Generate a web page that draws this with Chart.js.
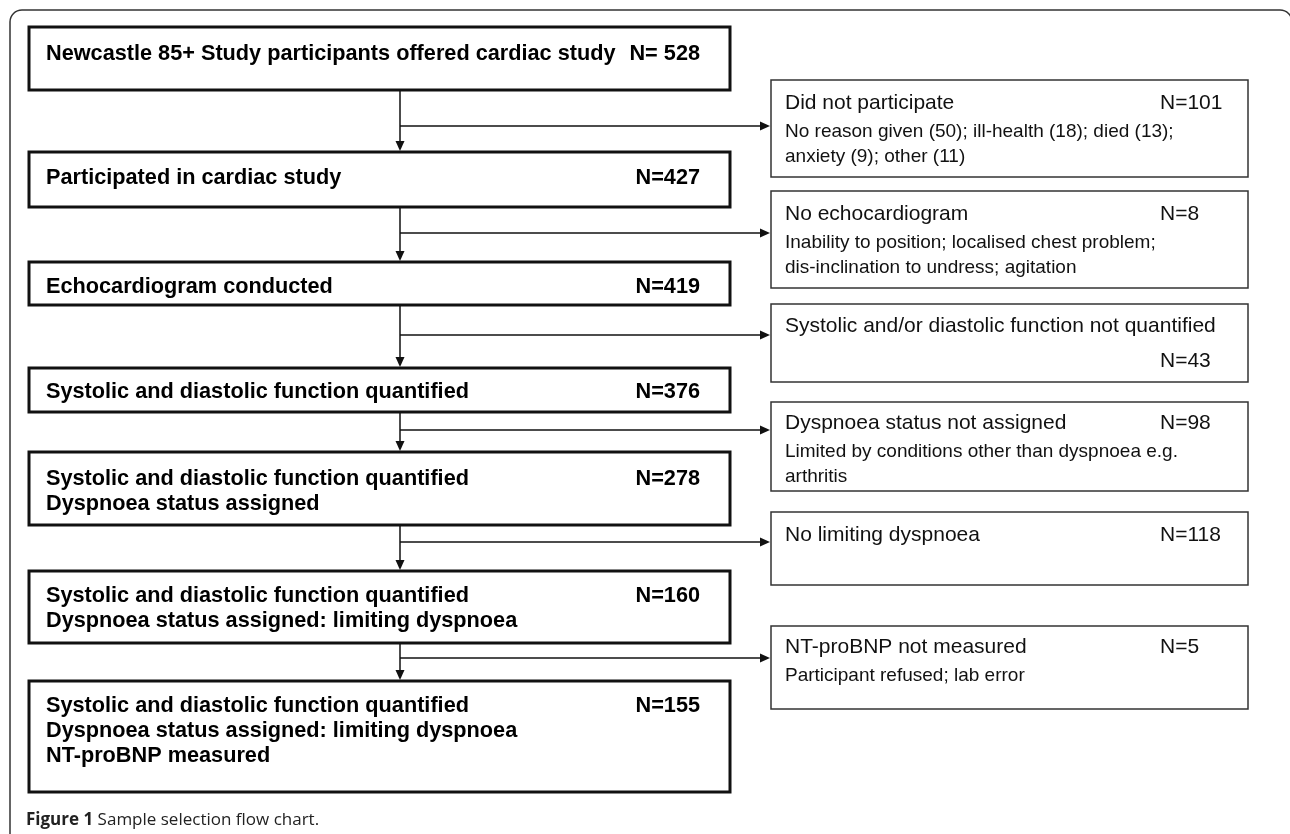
<!DOCTYPE html>
<html>
<head>
<meta charset="utf-8">
<title>Sample selection flow chart</title>
<script src="https://cdn.jsdelivr.net/npm/chart.js@4/dist/chart.umd.min.js"></script>
<style>
  html, body { margin: 0; padding: 0; background: #fff; }
  #wrap { width: 1290px; height: 834px; }
</style>
</head>
<body>
<div id="wrap"><canvas id="flow" width="1290" height="834"></canvas></div>
<script>
// Flow chart data

const stepLabels = [
  ["Newcastle 85+ Study participants offered cardiac study"],
  ["Participated in cardiac study"],
  ["Echocardiogram conducted"],
  ["Systolic and diastolic function quantified"],
  ["Systolic and diastolic function quantified", "Dyspnoea status assigned"],
  ["Systolic and diastolic function quantified", "Dyspnoea status assigned: limiting dyspnoea"],
  ["Systolic and diastolic function quantified", "Dyspnoea status assigned: limiting dyspnoea", "NT-proBNP measured"],
];
const stepN = [528, 427, 419, 376, 278, 160, 155];

const exclTitles = [
  "Did not participate",
  "No echocardiogram",
  "Systolic and/or diastolic function not quantified",
  "Dyspnoea status not assigned",
  "No limiting dyspnoea",
  "NT-proBNP not measured",
];
const exclN = [101, 8, 43, 98, 118, 5];
const exclReasons = [
  ["No reason given (50); ill-health (18); died (13);", "anxiety (9); other (11)"],
  ["Inability to position; localised chest problem;", "dis-inclination to undress; agitation"],
  [],
  ["Limited by conditions other than dyspnoea e.g.", "arthritis"],
  [],
  ["Participant refused; lab error"],
];

const caption = ["Figure 1", "Sample selection flow chart."];

// Layout (chart units, y grows downward)
const mainCol = { x0: 29, x1: 730, textX: 46, nX: 700, link: 400 };
const mainRows = [[27, 90], [152, 207], [262, 305], [368, 412], [452, 525], [571, 643], [681, 792]];
const mainBase = [60, 184, 293, 398, 485, 602, 712];
const sideCol = { x0: 771, x1: 1248, textX: 785, nX: 1160 };
const sideRows = [[80, 177], [191, 288], [304, 382], [402, 491], [512, 585], [626, 709]];
const sideBase = [109, 220, 332, 429, 541, 653];
const branchY = [126, 233, 335, 430, 542, 658];

const SANS = '"Liberation Sans", Arial, Helvetica, sans-serif';

const flowPlugin = {
  id: "flow",
  beforeDraw(chart) {
    const ctx = chart.ctx;
    ctx.save();
    ctx.fillStyle = "#fff";
    ctx.fillRect(0, 0, chart.width, chart.height);
    ctx.restore();
  },
  afterDraw(chart) {
    const { ctx } = chart;
    const xs = chart.scales.x;
    const ys = chart.scales.y;
    const px = (v) => xs.getPixelForValue(v);
    const py = (v) => ys.getPixelForValue(v);

    ctx.save();

    // outer frame
    ctx.strokeStyle = "#333";
    ctx.lineWidth = 1.5;
    const r = 12;
    ctx.beginPath();
    ctx.moveTo(px(10), py(834));
    ctx.lineTo(px(10), py(10 + r));
    ctx.arcTo(px(10), py(10), px(10 + r), py(10), r);
    ctx.lineTo(px(1292 - r), py(10));
    ctx.arcTo(px(1292), py(10), px(1292), py(10 + r), r);
    ctx.lineTo(px(1292), py(834));
    ctx.stroke();

    const arrowDown = (x, y) => {
      ctx.beginPath();
      ctx.moveTo(x, y);
      ctx.lineTo(x - 4.5, y - 10);
      ctx.lineTo(x + 4.5, y - 10);
      ctx.closePath();
      ctx.fill();
    };
    const arrowRight = (x, y) => {
      ctx.beginPath();
      ctx.moveTo(x, y);
      ctx.lineTo(x - 10, y - 4.5);
      ctx.lineTo(x - 10, y + 4.5);
      ctx.closePath();
      ctx.fill();
    };

    // connectors
    ctx.strokeStyle = "#111";
    ctx.fillStyle = "#111";
    ctx.lineWidth = 1.5;
    const lx = px(mainCol.link);
    for (let i = 0; i < mainRows.length - 1; i++) {
      const yTop = py(mainRows[i][1]);
      const yBot = py(mainRows[i + 1][0]);
      ctx.beginPath();
      ctx.moveTo(lx, yTop);
      ctx.lineTo(lx, yBot - 6);
      ctx.stroke();
      arrowDown(lx, yBot - 1);
    }
    branchY.forEach((b) => {
      const yy = py(b);
      ctx.beginPath();
      ctx.moveTo(lx, yy);
      ctx.lineTo(px(sideCol.x0) - 6, yy);
      ctx.stroke();
      arrowRight(px(sideCol.x0) - 1, yy);
    });

    // main boxes
    ctx.lineWidth = 3;
    ctx.strokeStyle = "#111";
    mainRows.forEach((row, i) => {
      ctx.strokeRect(px(mainCol.x0), py(row[0]), px(mainCol.x1) - px(mainCol.x0), py(row[1]) - py(row[0]));
      ctx.fillStyle = "#000";
      ctx.font = "bold 21.7px " + SANS;
      ctx.textBaseline = "alphabetic";
      ctx.textAlign = "left";
      stepLabels[i].forEach((line, k) => {
        ctx.fillText(line, px(mainCol.textX), py(mainBase[i] + k * 25));
      });
      ctx.textAlign = "right";
      ctx.fillText((i === 0 ? "N= " : "N=") + stepN[i], px(mainCol.nX), py(mainBase[i]));
    });

    // excluded boxes
    ctx.lineWidth = 1.5;
    ctx.strokeStyle = "#333";
    sideRows.forEach((row, i) => {
      ctx.strokeRect(px(sideCol.x0), py(row[0]), px(sideCol.x1) - px(sideCol.x0), py(row[1]) - py(row[0]));
      ctx.fillStyle = "#111";
      ctx.textAlign = "left";
      ctx.font = "21px " + SANS;
      ctx.fillText(exclTitles[i], px(sideCol.textX), py(sideBase[i]));
      const nRow = exclReasons[i].length === 0 && exclTitles[i].length > 40 ? 35 : 0;
      ctx.fillText("N=" + exclN[i], px(sideCol.nX), py(sideBase[i] + nRow));
      ctx.font = "19px " + SANS;
      exclReasons[i].forEach((line, k) => {
        ctx.fillText(line, px(sideCol.textX), py(sideBase[i] + 28 + k * 25));
      });
    });

    // caption
    ctx.fillStyle = "#222";
    ctx.textAlign = "left";
    ctx.font = 'bold 17px "Open Sans", "Noto Sans", sans-serif';
    ctx.fillText(caption[0], px(26), py(825));
    const w = ctx.measureText(caption[0] + " ").width;
    ctx.font = '17px "Open Sans", "Noto Sans", sans-serif';
    ctx.fillText(caption[1], px(26) + w, py(825));

    ctx.restore();
  },
};

new Chart(document.getElementById("flow"), {
  type: "scatter",
  data: { datasets: [] },
  options: {
    responsive: false,
    animation: false,
    devicePixelRatio: 1,
    layout: { padding: 0 },
    plugins: { legend: { display: false }, tooltip: { enabled: false } },
    scales: {
      x: { type: "linear", min: 0, max: 1290, display: false },
      y: { type: "linear", min: 0, max: 834, reverse: true, display: false },
    },
  },
  plugins: [flowPlugin],
});
</script>
</body>
</html>
